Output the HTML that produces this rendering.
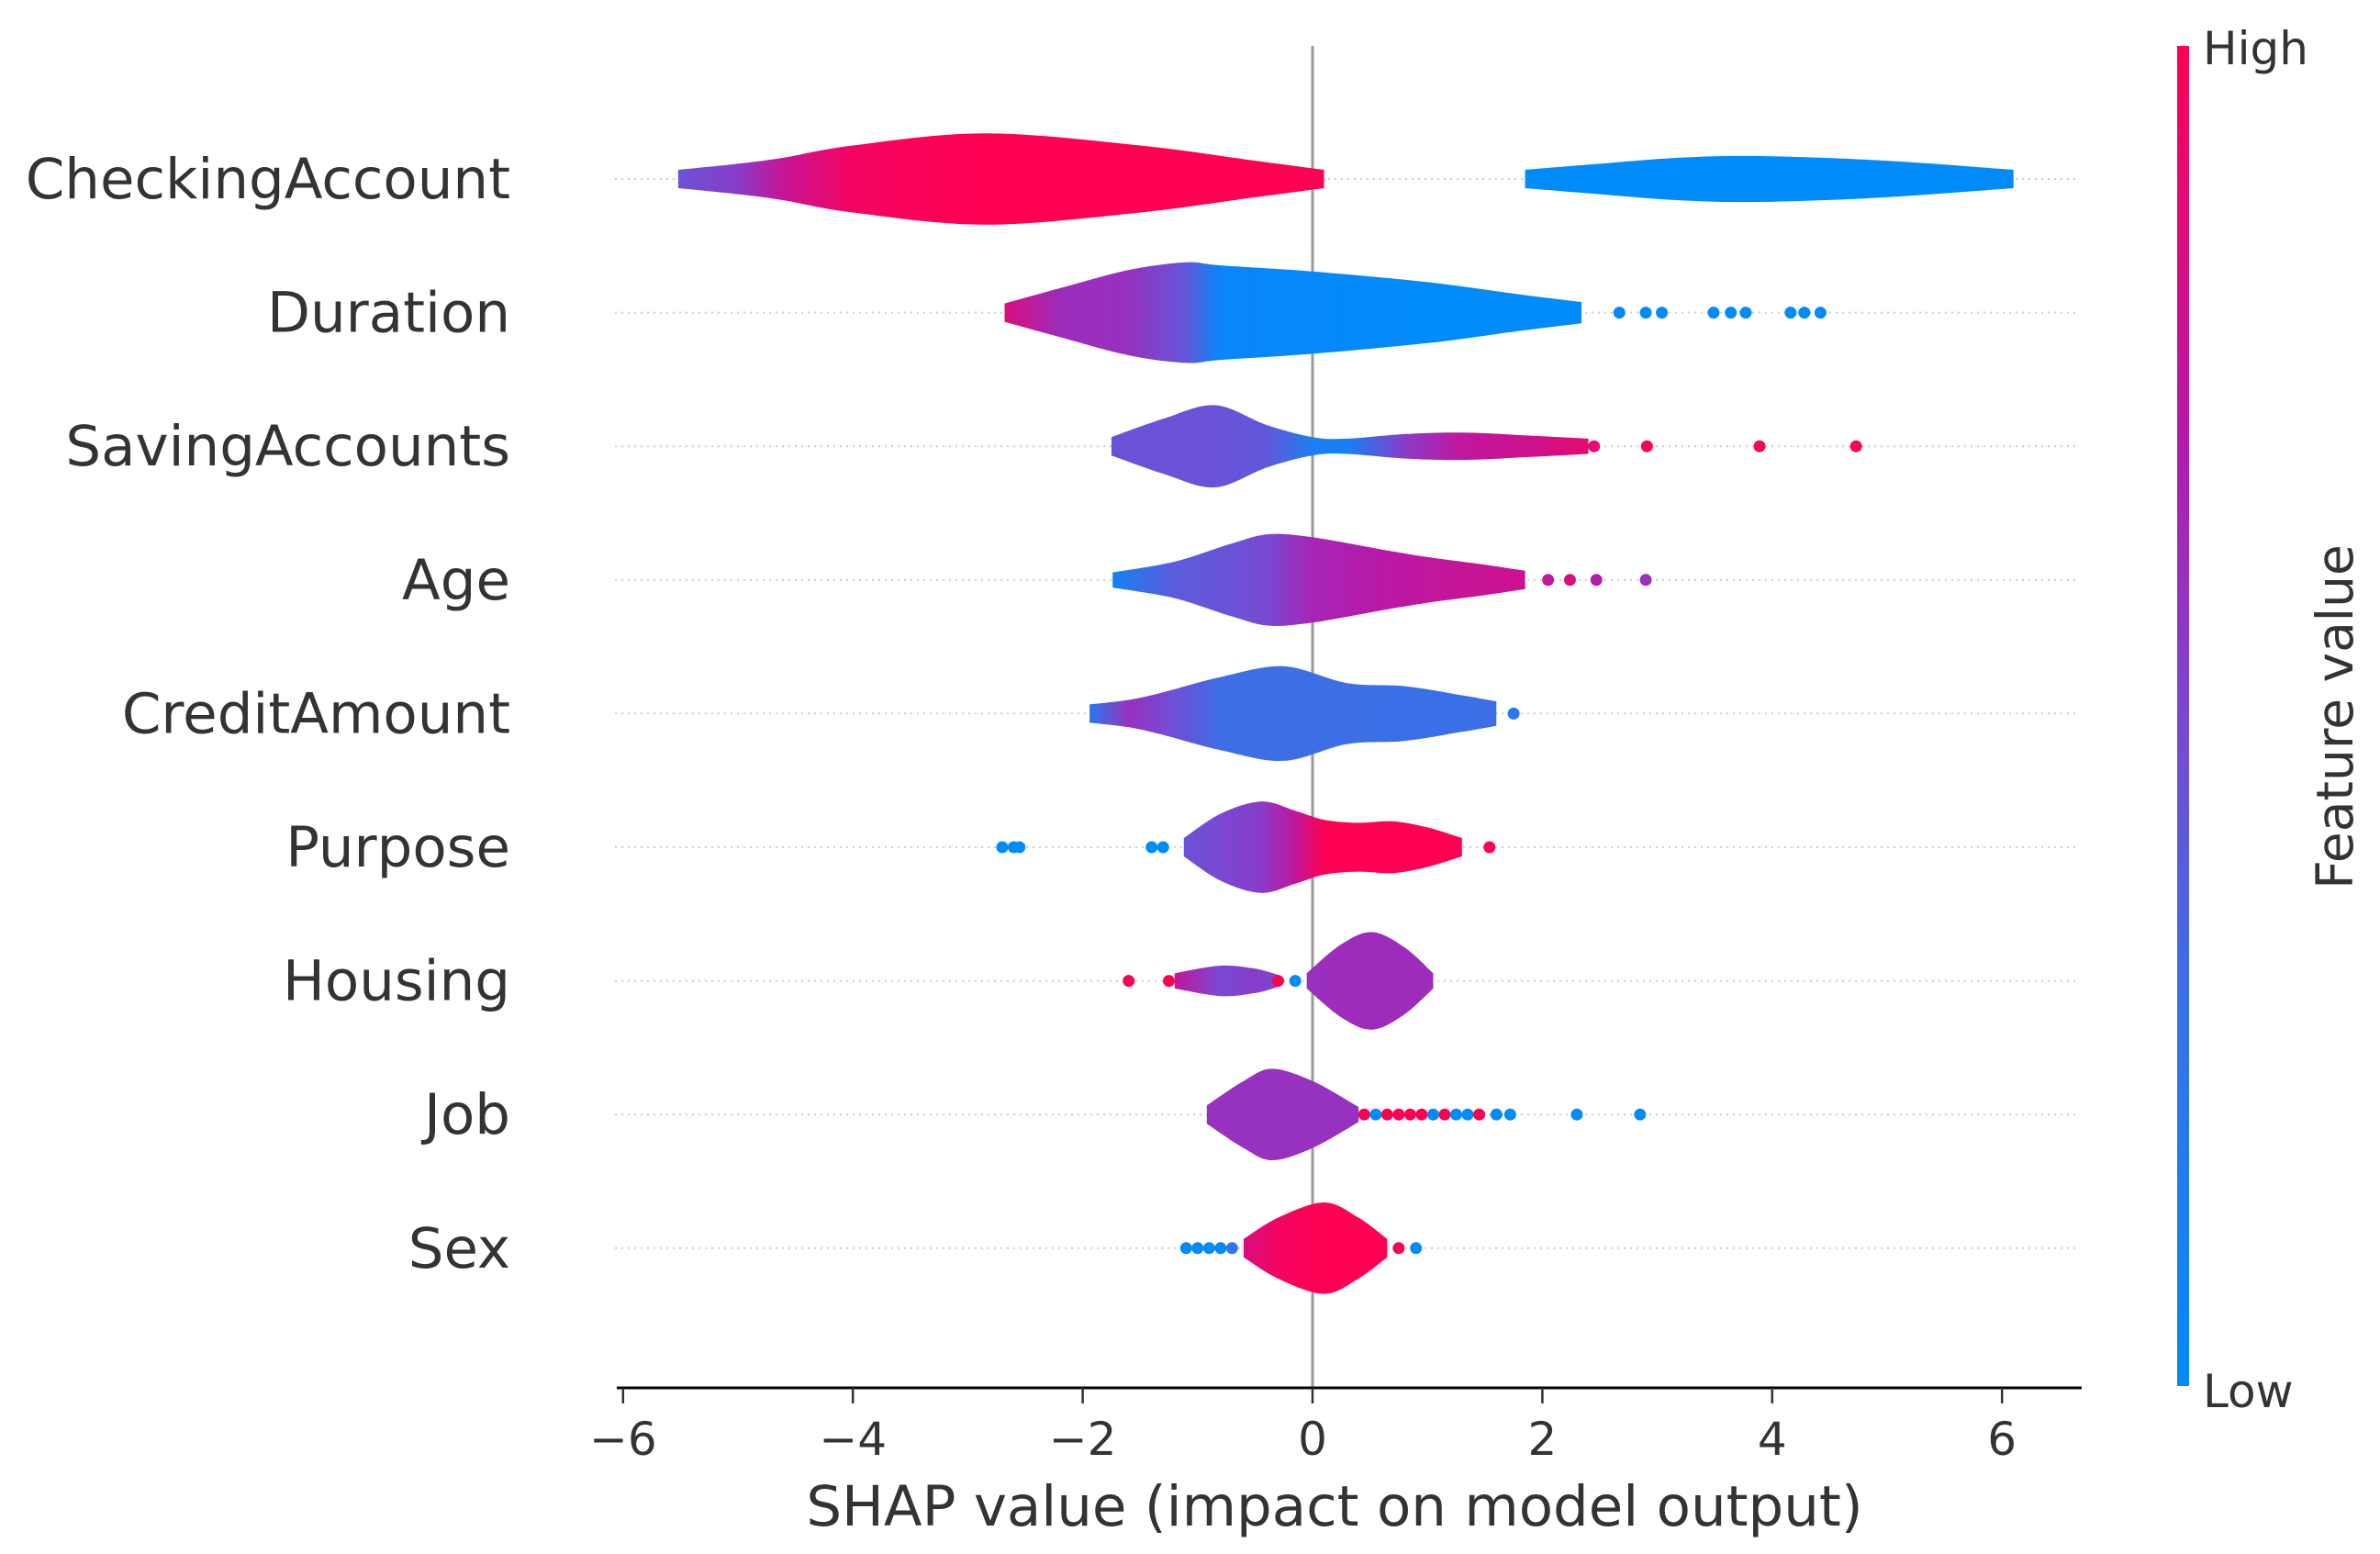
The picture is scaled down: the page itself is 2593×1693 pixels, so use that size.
<!DOCTYPE html>
<html><head><meta charset="utf-8"><style>
html,body{margin:0;padding:0;background:#fff;}
svg{display:block;font-family:"DejaVu Sans","Liberation Sans",sans-serif;}
</style></head><body>
<svg id="chart" width="2593" height="1693" viewBox="0 0 2593 1693" xmlns="http://www.w3.org/2000/svg">
<defs id="defs">
<linearGradient id="cbar" x1="0" y1="1" x2="0" y2="0">
<stop offset="0" stop-color="#008bfb"/><stop offset="0.3" stop-color="#3d6ee6"/><stop offset="0.5" stop-color="#7a48d2"/><stop offset="0.7" stop-color="#b41aac"/><stop offset="1" stop-color="#ff0052"/>
</linearGradient>
</defs>
<g id="rows"></g>
<line x1="1430" y1="50" x2="1430" y2="1512" stroke="#999" stroke-width="3"/>
<g id="marks"></g>
<line x1="672" y1="1512" x2="2268" y2="1512" stroke="#000" stroke-width="3"/>
<g id="xticks"></g>
<text x="1454" y="1662" font-size="61" text-anchor="middle" fill="#333">SHAP value (impact on model output)</text>
<rect x="2372" y="50" width="13" height="1460" fill="url(#cbar)"/>
<text x="2400" y="70" font-size="50" fill="#333">High</text>
<text x="2400" y="1533" font-size="50" fill="#333">Low</text>
<text transform="translate(2563,781) rotate(-90)" font-size="55" text-anchor="middle" fill="#333">Feature value</text>
</svg>
<script>
const features = ["CheckingAccount","Duration","SavingAccounts","Age","CreditAmount","Purpose","Housing","Job","Sex"];
const xTicks = [-6,-4,-2,0,2,4,6];
const xTickLabels = ["\u22126","\u22124","\u22122","0","2","4","6"];
// violins: [shapValue, halfDensity, featureColor(0 low..1 high)]
const violinCheckingA = [[-5.52,6,0.45],[-5.0,10,0.55],[-4.6,14,0.78],[-4.0,22,0.95],[-2.85,30,1],[-1.5,22,1],[-0.5,12,1],[0.1,6,1]];
const violinCheckingB = [[1.85,6,0],[2.5,10,0],[3.2,14,0],[3.93,15,0],[5.0,12,0],[6.1,6,0]];
const violinDuration = [[-2.68,6,0.85],[-2.2,16,0.62],[-1.6,28,0.6],[-1.1,33,0.42],[-0.8,31,0.05],[0,27,0.03],[1.0,20,0],[1.8,12,0],[2.34,7,0]];
const violinSaving = [[-1.75,6,0.45],[-1.3,18,0.45],[-0.85,27,0.45],[-0.4,14,0.42],[0,6,0.15],[0.3,5,0.1],[0.8,8,0.55],[1.3,9,0.75],[1.9,7,0.8],[2.4,5,0.9]];
const violinAge = [[-1.74,5,0.1],[-1.2,12,0.4],[-0.7,24,0.45],[-0.38,30,0.5],[0,28,0.65],[0.6,20,0.72],[1.0,15,0.75],[1.5,10,0.78],[1.85,6,0.8]];
const violinCredit = [[-1.94,6,0.2],[-1.6,9,0.6],[-1.3,14,0.5],[-0.8,24,0.3],[-0.25,31,0.3],[0.3,20,0.3],[0.8,18,0.28],[1.3,12,0.28],[1.6,8,0.3]];
const violinPurpose = [[-1.12,6,0.45],[-0.8,22,0.5],[-0.45,30,0.55],[-0.15,24,0.75],[0.1,18,1],[0.4,16,1],[0.7,17,1],[1.0,13,1],[1.3,6,1]];
const violinHousingA = [[-1.2,5,0.75],[-0.8,10,0.5],[-0.5,8,0.55],[-0.3,4,0.5]];
const violinHousingB = [[-0.05,5,0.6],[0.25,24,0.62],[0.52,32,0.62],[0.8,22,0.62],[1.05,5,0.62]];
const violinJob = [[-0.92,6,0.6],[-0.6,22,0.6],[-0.35,30,0.6],[0,22,0.6],[0.4,5,0.6]];
const violinSex = [[-0.6,6,0.85],[-0.3,20,0.95],[0.1,30,1],[0.4,20,1],[0.65,6,1]];
const violins = [[0,violinCheckingA],[0,violinCheckingB],[1,violinDuration],[2,violinSaving],[3,violinAge],[4,violinCredit],[5,violinPurpose],[6,violinHousingA],[6,violinHousingB],[7,violinJob],[8,violinSex]];
// outlier dots: [row, shapValue, featureColor]
const dots = [
[1,2.67,0],[1,2.9,0],[1,3.04,0],[1,3.49,0],[1,3.64,0],[1,3.77,0],[1,4.16,0],[1,4.28,0],[1,4.42,0],
[2,2.45,0.9],[2,2.91,1],[2,3.89,1],[2,4.73,1],
[3,2.05,0.75],[3,2.24,0.85],[3,2.47,0.7],[3,2.9,0.6],
[4,1.75,0.2],
[5,-2.7,0],[5,-2.6,0],[5,-2.55,0],[5,-1.4,0],[5,-1.3,0],[5,1.54,1],
[6,-1.6,1],[6,-1.25,1],[6,-0.3,1],[6,-0.15,0],
[7,0.45,1],[7,0.55,0],[7,0.65,1],[7,0.75,1],[7,0.85,1],[7,0.95,1],[7,1.05,0],[7,1.15,1],[7,1.25,0],[7,1.35,0],[7,1.45,1],[7,1.6,0],[7,1.72,0],[7,2.3,0],[7,2.85,0],
[8,-1.1,0],[8,-1.0,0],[8,-0.9,0],[8,-0.8,0],[8,-0.7,0.2],[8,0.75,1],[8,0.9,0]
];
const NS="http://www.w3.org/2000/svg";
function xs(v){return 1430+v*125.2;}
function ys(i){return 195+i*145.6;}
function hs(d){return d*1.66;}
const cmapStops=[[0,[0,139,251]],[0.3,[61,110,230]],[0.5,[122,72,210]],[0.7,[180,26,172]],[1,[255,0,82]]];
function cmap(t){for(let k=1;k<cmapStops.length;k++){if(t<=cmapStops[k][0]){const a=cmapStops[k-1],b=cmapStops[k];const f=(t-a[0])/(b[0]-a[0]);const c=a[1].map((v,j)=>Math.round(v+(b[1][j]-v)*f));return `rgb(${c[0]},${c[1]},${c[2]})`;}}return "rgb(255,0,82)";}
function mk(tag,attrs,parent){const e=document.createElementNS(NS,tag);for(const k in attrs)e.setAttribute(k,attrs[k]);parent.appendChild(e);return e;}
// smooth curve through points (Catmull-Rom -> cubic bezier), continuing from current point
function smooth(P){let d='';for(let i=0;i<P.length-1;i++){const p0=P[Math.max(0,i-1)],p1=P[i],p2=P[i+1],p3=P[Math.min(P.length-1,i+2)];
const c1=[p1[0]+(p2[0]-p0[0])/6,p1[1]+(p2[1]-p0[1])/6],c2=[p2[0]-(p3[0]-p1[0])/6,p2[1]-(p3[1]-p1[1])/6];
d+=` C${c1[0].toFixed(1)},${c1[1].toFixed(1)} ${c2[0].toFixed(1)},${c2[1].toFixed(1)} ${p2[0].toFixed(1)},${p2[1].toFixed(1)}`;}return d;}
const rows=document.getElementById('rows'),marks=document.getElementById('marks'),defs=document.getElementById('defs'),xt=document.getElementById('xticks');
features.forEach((f,i)=>{
  const l=mk('line',{x1:670,y1:ys(i),x2:2265,y2:ys(i),stroke:'#ccc','stroke-width':2,'stroke-dasharray':'2,5'},rows);
  
  
  const t=mk('text',{x:556,y:ys(i)+21,'font-size':61,'text-anchor':'end',fill:'#333'},rows);
  t.textContent=f;
  
  
});
violins.forEach(([row,pts],n)=>{
  const x0=xs(pts[0][0]),x1=xs(pts[pts.length-1][0]);
  const g=mk('linearGradient',{id:'vg'+n,gradientUnits:'userSpaceOnUse',x1:x0,y1:0,x2:x1,y2:0},defs);
  pts.forEach(p=>mk('stop',{offset:((xs(p[0])-x0)/(x1-x0||1)).toFixed(4),'stop-color':cmap(p[2])},g));
  const y=ys(row);
  const top=pts.map(p=>[xs(p[0]),y-hs(p[1])]);
  const bot=pts.slice().reverse().map(p=>[xs(p[0]),y+hs(p[1])]);
  let d=`M${top[0][0].toFixed(1)},${top[0][1].toFixed(1)}`+smooth(top)+` L${bot[0][0].toFixed(1)},${bot[0][1].toFixed(1)}`+smooth(bot)+' Z';
  const p=mk('path',{d:d,fill:'url(#vg'+n+')'},marks);
  
  
});
dots.forEach(([row,v,c])=>{
  const e=mk('circle',{cx:xs(v),cy:ys(row),r:6.5,fill:cmap(c)},marks);
  
  
});
xTicks.forEach((v,i)=>{
  const l=mk('line',{x1:xs(v),y1:1512,x2:xs(v),y2:1529,stroke:'#333','stroke-width':2.5},xt);
  
  
  const t=mk('text',{x:xs(v),y:1585,'font-size':50,'text-anchor':'middle',fill:'#333'},xt);
  t.textContent=xTickLabels[i];
  
  
});
</script>
</body></html>
